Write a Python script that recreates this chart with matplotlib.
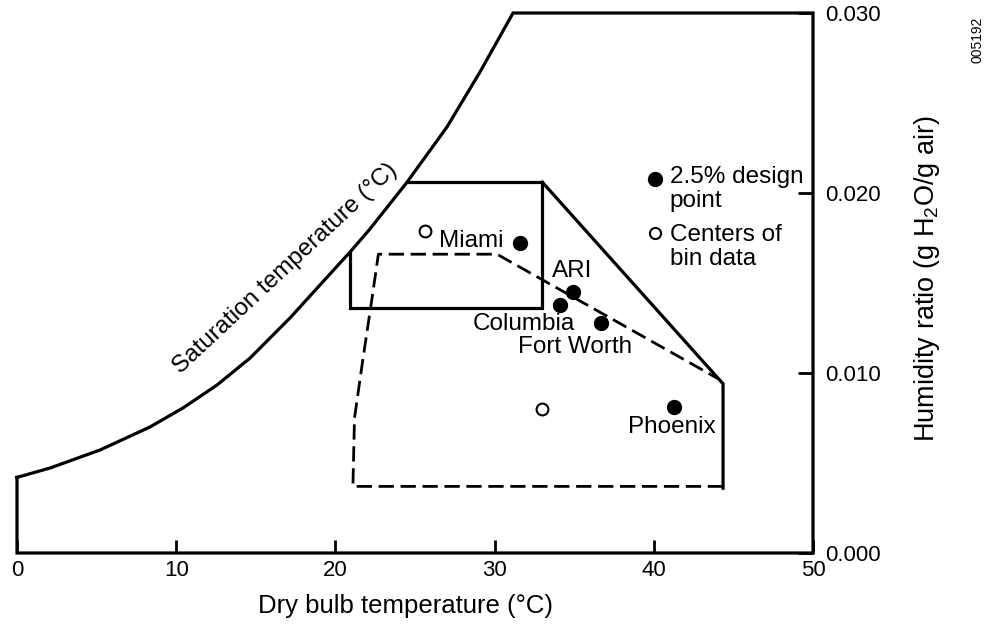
import matplotlib
matplotlib.use('Agg')
import matplotlib.pyplot as plt

plt.rcParams['font.family'] = ['Liberation Sans', 'DejaVu Sans']
plt.rcParams['mathtext.fontset'] = 'custom'
plt.rcParams['mathtext.rm'] = 'Liberation Sans'
plt.rcParams['mathtext.default'] = 'regular'

# saturation curve (dry bulb degC, humidity ratio)
sat_t = [0, 2.07, 5.21, 8.35, 10.43, 12.56, 14.64, 17.15, 19.66, 20.9, 22.17, 24.5, 27.01, 29.08, 31.16]
sat_w = [0.0042, 0.00472, 0.00572, 0.0070, 0.00806, 0.00933, 0.01083, 0.01306, 0.0155, 0.0167,
         0.0180, 0.0206, 0.02367, 0.02672, 0.030]

# solid comfort region (goes on from the saturation curve)
solid_t = [20.9, 20.9, 33.0, 33.0, 24.5]
solid_w = [0.0167, 0.0136, 0.0136, 0.0206, 0.0206]
slope_t = [33.0, 44.35, 44.35]
slope_w = [0.0206, 0.0094, 0.0036]

# dashed region
dash_t = [44.35, 21.1, 21.2, 21.7, 22.3, 22.7, 30.15, 44.0]
dash_w = [0.0037, 0.0037, 0.0075, 0.0106, 0.01415, 0.0166, 0.0166, 0.0097]

# 2.5% design points and their labels (label x, label baseline)
design_names = ['Miami', 'ARI', 'Columbia', 'Fort Worth', 'Phoenix']
design_t = [31.6, 34.9, 34.1, 36.7, 41.3]
design_w = [0.0172, 0.0145, 0.0138, 0.0128, 0.0081]
label_t = [26.5, 33.6, 28.6, 31.5, 38.4]
label_w = [0.0170, 0.01533, 0.01239, 0.01111, 0.00667]

# centers of bin data
bin_t = [25.6, 33.0]
bin_w = [0.0179, 0.0080]

x_ticks = [0, 10, 20, 30, 40, 50]
y_ticks = [0.0, 0.010, 0.020, 0.030]
y_labels = ['0.000', '0.010', '0.020', '0.030']

fig = plt.figure(figsize=(9.93, 6.28), dpi=100)
ax = fig.add_axes([17 / 993, 75 / 628, 796 / 993, 540 / 628])
ax.set_xlim(0, 50)
ax.set_ylim(0, 0.030)
for s in ax.spines.values():
    s.set_visible(False)

lw = 2.3
# outer frame: left edge, saturation curve, top, right and bottom
frame_t = sat_t + [50, 50, 0, 0]
frame_w = sat_w + [0.030, 0.0, 0.0, sat_w[0]]
ax.plot(frame_t, frame_w, color='black', lw=lw, clip_on=False, solid_joinstyle='miter')

ax.plot(solid_t, solid_w, color='black', lw=lw, clip_on=False, solid_joinstyle='miter')
ax.plot(slope_t, slope_w, color='black', lw=lw, clip_on=False, solid_joinstyle='miter')
ax.plot(dash_t, dash_w, color='black', lw=2.0, linestyle=(0, (5.5, 2.4)), clip_on=False)

ax.plot(design_t, design_w, 'o', color='black', ms=10, clip_on=False)
ax.plot(bin_t, bin_w, 'o', mfc='white', mec='black', mew=1.5, ms=8.5, clip_on=False)

fs = 17.5
for name, lt, lwv in zip(design_names, label_t, label_w):
    ax.text(lt, lwv, name, fontsize=fs, ha='left', va='baseline')

ax.text(16.85, 0.0158, 'Saturation temperature (°C)', fontsize=fs, rotation=43,
        rotation_mode='anchor', ha='center', va='center')

# legend
ax.plot([40.1], [0.0208], 'o', color='black', ms=10, clip_on=False)
ax.plot([40.1], [0.0178], 'o', mfc='white', mec='black', mew=1.5, ms=8, clip_on=False)
ax.text(41.0, 0.01922, '2.5% design\npoint', fontsize=fs, ha='left', va='baseline',
        linespacing=1.1)
ax.text(41.0, 0.01600, 'Centers of\nbin data', fontsize=fs, ha='left', va='baseline',
        linespacing=1.1)

ax.set_xticks(x_ticks)
ax.set_xticklabels([str(v) for v in x_ticks])
ax.tick_params(axis='x', direction='in', length=9.5, width=2, pad=5, labelsize=16)
ax.yaxis.tick_right()
ax.set_yticks(y_ticks)
ax.set_yticklabels(y_labels)
ax.tick_params(axis='y', direction='in', length=11, width=2, pad=9, labelsize=16)

fig.text(405 / 993, 1 - 613 / 628, 'Dry bulb temperature (°C)', fontsize=18.5,
         ha='center', va='baseline')
fig.text(927 / 993, 1 - 279 / 628, 'Humidity ratio (g H$_2$O/g air)', fontsize=19.5,
         rotation=90, ha='center', va='center')
fig.text(977 / 993, 1 - 40 / 628, '005192', fontsize=10, rotation=90,
         ha='center', va='center')

fig.savefig('out.png', dpi=100)
